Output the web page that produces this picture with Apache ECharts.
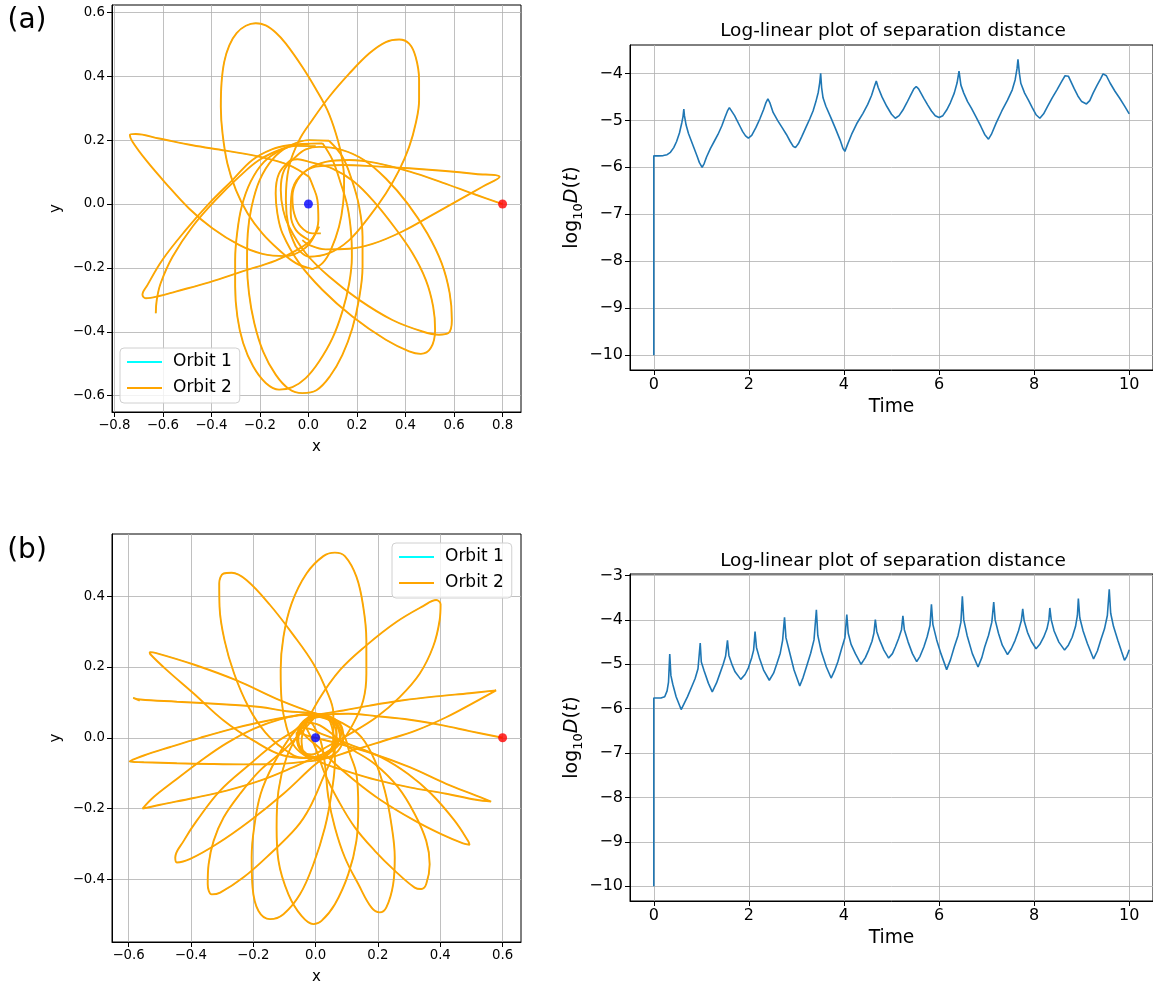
<!DOCTYPE html>
<html>
<head>
<meta charset="utf-8">
<script src="https://cdn.jsdelivr.net/npm/echarts@6/dist/echarts.min.js"></script>
<style>
  html, body { margin: 0; padding: 0; background: #fff; }
  #main { width: 1153px; height: 986px; }
</style>
</head>
<body>
<div id="main"></div>
<script>
//---------------tick labels---------------
const xTicksA = [-0.8, -0.6, -0.4, -0.2, 0, 0.2, 0.4, 0.6, 0.8]
const yTicksA = [-0.6, -0.4, -0.2, 0, 0.2, 0.4, 0.6]
const xTicksB = [-0.6, -0.4, -0.2, 0, 0.2, 0.4, 0.6]
const yTicksB = [-0.4, -0.2, 0, 0.2, 0.4]
const timeTicks = [0, 2, 4, 6, 8, 10]
const logTicksA = [-10, -9, -8, -7, -6, -5, -4]
const logTicksB = [-10, -9, -8, -7, -6, -5, -4, -3]

//---------------separation distance, log10 D(t)---------------
const timeA = [0, 0, 0.1, 0.2, 0.28, 0.35, 0.42, 0.48, 0.54, 0.59, 0.615, 0.632, 0.645, 0.68, 0.73, 0.79, 0.85, 0.91, 0.96, 1.017,
  1.06, 1.11, 1.19, 1.27, 1.35, 1.43, 1.5, 1.55, 1.59, 1.63, 1.7, 1.75, 1.81, 1.87, 1.93, 1.99, 2.06, 2.15, 2.23, 2.31,
  2.36, 2.40, 2.44, 2.51, 2.61, 2.71, 2.79, 2.87, 2.93, 2.98, 3.04, 3.11, 3.2, 3.28, 3.35, 3.41, 3.46, 3.49, 3.51, 3.53,
  3.56, 3.62, 3.72, 3.82, 3.92, 3.98, 4.02, 4.08, 4.16, 4.28, 4.40, 4.50, 4.58, 4.64, 4.68, 4.72, 4.80, 4.90, 5.0, 5.08,
  5.16, 5.24, 5.32, 5.40, 5.47, 5.52, 5.57, 5.68, 5.76, 5.84, 5.92, 6.0, 6.08, 6.16, 6.24, 6.32, 6.38, 6.42, 6.46, 6.52,
  6.60, 6.68, 6.78, 6.88, 6.96, 7.04, 7.1, 7.2, 7.32, 7.44, 7.54, 7.6, 7.64, 7.66, 7.69, 7.72, 7.8, 7.88, 7.96, 8.04,
  8.12, 8.2, 8.28, 8.38, 8.48, 8.58, 8.65, 8.68, 8.72, 8.84, 8.92, 9.0, 9.1, 9.17, 9.24, 9.32, 9.4, 9.45, 9.48, 9.52,
  9.6, 9.7, 9.8, 9.9, 10.0]
const logDA = [-10, -5.755, -5.755, -5.75, -5.73, -5.68, -5.58, -5.45, -5.27, -5.05, -4.92, -4.76, -4.9, -5.1, -5.28, -5.44, -5.6, -5.76, -5.9, -6.0,
  -5.92, -5.78, -5.6, -5.45, -5.3, -5.12, -4.93, -4.8, -4.73, -4.77, -4.9, -5.0, -5.12, -5.24, -5.33, -5.38, -5.32, -5.15, -4.97, -4.77,
  -4.62, -4.54, -4.62, -4.83, -5.01, -5.17, -5.3, -5.45, -5.55, -5.58, -5.5, -5.35, -5.15, -4.97, -4.8, -4.6, -4.4, -4.2, -4.0, -4.3,
  -4.52, -4.7, -4.93, -5.17, -5.42, -5.6, -5.66, -5.5, -5.3, -5.05, -4.85, -4.66, -4.47, -4.28, -4.16, -4.3, -4.5, -4.7, -4.87, -4.955,
  -4.9, -4.78, -4.63, -4.47, -4.33, -4.28, -4.33, -4.53, -4.67, -4.8, -4.9, -4.94, -4.9, -4.78, -4.62, -4.42, -4.2, -3.95, -4.25, -4.42,
  -4.6, -4.74, -4.93, -5.13, -5.3, -5.40, -5.3, -5.06, -4.8, -4.57, -4.35, -4.14, -3.9, -3.70, -4.0, -4.21, -4.42, -4.57, -4.73, -4.88,
  -4.955, -4.86, -4.71, -4.52, -4.35, -4.17, -4.05, -4.01, -4.06, -4.32, -4.48, -4.6, -4.65, -4.58, -4.42, -4.26, -4.11, -4.01, -3.97, -4.05,
  -4.21, -4.38, -4.53, -4.69, -4.86]

const timeB = [0, 0, 0.15, 0.23, 0.28, 0.31, 0.336, 0.36, 0.40, 0.47, 0.576, 0.71, 0.8, 0.87, 0.93, 0.977, 1.0, 1.06, 1.15, 1.23,
  1.32, 1.39, 1.46, 1.51, 1.55, 1.58, 1.65, 1.71, 1.83, 1.92, 1.99, 2.06, 2.10, 2.13, 2.16, 2.22, 2.31, 2.43, 2.52, 2.59,
  2.66, 2.71, 2.75, 2.78, 2.85, 2.95, 3.07, 3.14, 3.21, 3.3, 3.37, 3.42, 3.45, 3.52, 3.63, 3.73, 3.8, 3.87, 3.95, 4.02,
  4.06, 4.09, 4.15, 4.24, 4.36, 4.45, 4.52, 4.59, 4.63, 4.66, 4.69, 4.75, 4.84, 4.94, 5.02, 5.08, 5.15, 5.21, 5.24, 5.27,
  5.35, 5.44, 5.53, 5.6, 5.68, 5.75, 5.81, 5.84, 5.87, 5.95, 6.04, 6.16, 6.24, 6.32, 6.40, 6.46, 6.49, 6.52, 6.59, 6.70,
  6.82, 6.9, 6.96, 7.04, 7.11, 7.15, 7.18, 7.25, 7.33, 7.44, 7.52, 7.6, 7.67, 7.73, 7.76, 7.79, 7.86, 7.94, 8.04, 8.12,
  8.2, 8.27, 8.31, 8.33, 8.36, 8.42, 8.52, 8.64, 8.72, 8.80, 8.87, 8.91, 8.93, 8.96, 9.03, 9.12, 9.25, 9.33, 9.40, 9.48,
  9.54, 9.58, 9.61, 9.67, 9.76, 9.84, 9.90, 9.95, 10.0]
const logDB = [-10, -5.76, -5.76, -5.73, -5.6, -5.4, -4.77, -5.25, -5.45, -5.73, -6.02, -5.73, -5.5, -5.32, -5.1, -4.52, -4.95, -5.15, -5.43, -5.62,
  -5.42, -5.21, -5.0, -4.82, -4.46, -4.8, -5.02, -5.17, -5.34, -5.23, -5.08, -4.85, -4.68, -4.26, -4.62, -4.85, -5.13, -5.36, -5.2, -4.98,
  -4.75, -4.46, -3.94, -4.4, -4.7, -5.13, -5.49, -5.3, -5.06, -4.75, -4.45, -3.77, -4.35, -4.7, -5.06, -5.31, -5.15, -4.95, -4.65, -4.4,
  -3.88, -4.3, -4.55, -4.76, -5.0, -4.85, -4.68, -4.48, -4.3, -3.99, -4.26, -4.45, -4.68, -4.86, -4.76, -4.61, -4.42, -4.22, -3.91, -4.22,
  -4.5, -4.76, -4.94, -4.82, -4.61, -4.38, -4.12, -3.65, -4.1, -4.45, -4.76, -5.12, -4.9, -4.61, -4.35, -4.05, -3.47, -4.0, -4.35, -4.76,
  -5.06, -4.85, -4.61, -4.35, -4.05, -3.60, -4.0, -4.3, -4.57, -4.78, -4.65, -4.46, -4.25, -4.02, -3.75, -4.02, -4.28, -4.48, -4.65, -4.55,
  -4.39, -4.2, -4.0, -3.73, -4.0, -4.25, -4.5, -4.68, -4.57, -4.39, -4.15, -3.9, -3.52, -3.95, -4.25, -4.53, -4.88, -4.7, -4.46, -4.2,
  -3.9, -3.31, -3.85, -4.15, -4.46, -4.72, -4.91, -4.82, -4.67]

//---------------bodies---------------
const centralMass = [[0, 0]]
const startA = [[0.8, 0]]
const startB = [[0.6, 0]]

//---------------orbit (a), one piece per loop---------------
const orbitA_start = [[0.800, 0.000], [0.690, 0.029], [0.552, 0.067], [0.415, 0.102], [0.277, 0.129], [0.168, 0.138], [0.071, 0.132], [0.003, 0.111], [-0.045, 0.075], [-0.066, 0.023], [-0.059, -0.029], [-0.032, -0.071], [0.016, -0.092], [0.051, -0.092]]
const orbitA_corner = [[0.003, -0.113], [-0.052, -0.081], [-0.073, -0.029], [-0.069, 0.033], [-0.038, 0.085], [0.030, 0.117], [0.140, 0.122], [0.277, 0.118], [0.415, 0.112], [0.552, 0.104], [0.690, 0.094], [0.788, 0.085], [0.717, 0.054], [0.621, 0.013], [0.511, -0.034], [0.387, -0.086], [0.264, -0.125], [0.168, -0.140], [0.071, -0.142], [0.003, -0.128], [-0.025, -0.113]]
const orbitA_upRight = [[-0.052, -0.133], [-0.082, -0.071], [-0.093, 0.013], [-0.080, 0.117], [-0.038, 0.200], [0.016, 0.263], [0.085, 0.335], [0.168, 0.408], [0.250, 0.471], [0.319, 0.507], [0.374, 0.515], [0.415, 0.502], [0.442, 0.460], [0.456, 0.388], [0.456, 0.325], [0.442, 0.252], [0.415, 0.179], [0.374, 0.106], [0.319, 0.033], [0.250, -0.040], [0.168, -0.113], [0.085, -0.154], [0.003, -0.165], [-0.052, -0.133]]
const orbitA_upLeft = [[0.017, -0.204], [-0.052, -0.185], [-0.121, -0.144], [-0.190, -0.092], [-0.251, -0.029], [-0.299, 0.044], [-0.334, 0.127], [-0.354, 0.221], [-0.361, 0.304], [-0.358, 0.380], [-0.347, 0.445], [-0.326, 0.497], [-0.296, 0.535], [-0.258, 0.558], [-0.217, 0.566], [-0.176, 0.559], [-0.134, 0.536], [-0.093, 0.502], [-0.025, 0.429], [0.030, 0.361], [0.078, 0.294], [0.113, 0.221], [0.137, 0.148], [0.147, 0.075], [0.143, 0.002], [0.126, -0.071], [0.092, -0.144], [0.058, -0.185], [0.017, -0.204]]
const orbitA_left = [[0.003, 0.085], [-0.080, 0.122], [-0.190, 0.146], [-0.341, 0.167], [-0.478, 0.184], [-0.615, 0.205], [-0.712, 0.219], [-0.736, 0.216], [-0.725, 0.195], [-0.670, 0.138], [-0.588, 0.065], [-0.492, -0.014], [-0.396, -0.076], [-0.286, -0.128], [-0.190, -0.156], [-0.093, -0.163], [-0.025, -0.144], [0.019, -0.107], [0.041, -0.050], [0.037, 0.013], [0.017, 0.059], [0.003, 0.085]]
const orbitA_lowLeft = [[0.044, -0.071], [0.010, -0.113], [-0.052, -0.146], [-0.135, -0.177], [-0.272, -0.211], [-0.409, -0.245], [-0.547, -0.274], [-0.615, -0.288], [-0.670, -0.295], [-0.684, -0.284], [-0.663, -0.253], [-0.602, -0.175], [-0.505, -0.081], [-0.409, 0.002], [-0.313, 0.075], [-0.231, 0.138], [-0.148, 0.172], [-0.080, 0.184], [0.003, 0.188]]
const orbitA_end = [[0.030, 0.181], [-0.052, 0.182], [-0.107, 0.173], [-0.203, 0.138], [-0.286, 0.085], [-0.382, 0.013], [-0.478, -0.071], [-0.560, -0.165], [-0.609, -0.248], [-0.625, -0.300], [-0.629, -0.342]]
const orbitA_bottom1 = [[0.058, 0.190], [-0.025, 0.188], [-0.107, 0.171], [-0.183, 0.132], [-0.238, 0.070], [-0.275, -0.008], [-0.294, -0.092], [-0.302, -0.175], [-0.302, -0.258], [-0.293, -0.352], [-0.269, -0.435], [-0.228, -0.508], [-0.176, -0.560], [-0.121, -0.581], [-0.066, -0.573], [-0.011, -0.545], [0.044, -0.493], [0.099, -0.420], [0.140, -0.336], [0.168, -0.248], [0.179, -0.165], [0.176, -0.092], [0.161, -0.008], [0.133, 0.065], [0.099, 0.138], [0.058, 0.190]]
const orbitA_bottom2 = [[0.085, 0.198], [0.003, 0.200], [-0.080, 0.181], [-0.148, 0.140], [-0.201, 0.075], [-0.234, -0.008], [-0.250, -0.092], [-0.253, -0.185], [-0.245, -0.279], [-0.223, -0.373], [-0.187, -0.461], [-0.135, -0.534], [-0.080, -0.579], [-0.025, -0.592], [0.033, -0.583], [0.088, -0.540], [0.140, -0.472], [0.181, -0.389], [0.209, -0.295], [0.223, -0.196], [0.223, -0.102], [0.209, -0.008], [0.179, 0.075], [0.140, 0.148], [0.085, 0.198]]
const orbitA_lowRight1 = [[-0.052, 0.148], [-0.100, 0.106], [-0.114, 0.044], [-0.104, -0.019], [-0.080, -0.071], [-0.011, -0.154], [0.085, -0.227], [0.209, -0.300], [0.346, -0.363], [0.470, -0.399], [0.538, -0.409], [0.577, -0.404], [0.591, -0.363], [0.582, -0.279], [0.549, -0.185], [0.490, -0.092], [0.408, 0.002], [0.319, 0.080], [0.229, 0.138], [0.140, 0.169], [0.044, 0.179], [-0.011, 0.171], [-0.052, 0.148]]
const orbitA_lowRight2 = [[-0.073, 0.138], [-0.121, 0.096], [-0.135, 0.033], [-0.128, -0.029], [-0.107, -0.092], [-0.038, -0.185], [0.058, -0.269], [0.181, -0.352], [0.319, -0.425], [0.415, -0.461], [0.463, -0.469], [0.504, -0.451], [0.522, -0.394], [0.514, -0.321], [0.484, -0.238], [0.429, -0.154], [0.353, -0.071], [0.271, 0.007], [0.188, 0.070], [0.099, 0.111], [0.003, 0.132], [-0.045, 0.140], [-0.073, 0.138]]

//---------------orbit (b), one piece per loop---------------
const orbitB_start = [[0.600, 0.000], [0.494, 0.019], [0.409, 0.035], [0.302, 0.051], [0.195, 0.061], [0.105, 0.068], [0.035, 0.066], [-0.018, 0.054], [-0.050, 0.025], [-0.055, -0.008], [-0.039, -0.041], [-0.007, -0.057], [0.035, -0.057]]
const orbitB_r = [[-0.029, -0.050], [0.025, -0.057], [0.110, -0.038], [0.217, -0.009], [0.323, 0.021], [0.419, 0.058], [0.505, 0.098], [0.579, 0.134], [0.494, 0.126], [0.387, 0.117], [0.281, 0.106], [0.174, 0.091], [0.089, 0.077], [0.025, 0.068], [-0.023, 0.057], [-0.053, 0.030], [-0.059, -0.008], [-0.048, -0.036], [-0.029, -0.050]]
const orbitB_ur = [[-0.039, -0.045], [-0.045, -0.008], [-0.029, 0.040], [0.009, 0.106], [0.078, 0.191], [0.163, 0.261], [0.259, 0.327], [0.345, 0.372], [0.387, 0.389], [0.401, 0.377], [0.398, 0.332], [0.377, 0.257], [0.334, 0.181], [0.270, 0.115], [0.195, 0.058], [0.110, 0.011], [0.035, -0.026], [-0.013, -0.047], [-0.039, -0.045]]
const orbitB_t = [[-0.018, -0.059], [-0.066, -0.026], [-0.093, 0.030], [-0.109, 0.106], [-0.112, 0.191], [-0.103, 0.285], [-0.077, 0.379], [-0.029, 0.464], [0.025, 0.513], [0.062, 0.523], [0.094, 0.513], [0.131, 0.455], [0.153, 0.370], [0.163, 0.275], [0.163, 0.181], [0.153, 0.106], [0.121, 0.040], [0.078, -0.017], [0.030, -0.050], [-0.018, -0.059]]
const orbitB_ul = [[0.025, -0.055], [-0.039, -0.057], [-0.103, -0.031], [-0.162, 0.016], [-0.215, 0.087], [-0.261, 0.181], [-0.292, 0.275], [-0.308, 0.370], [-0.309, 0.436], [-0.295, 0.464], [-0.269, 0.466], [-0.221, 0.445], [-0.146, 0.375], [-0.071, 0.290], [-0.007, 0.209], [0.035, 0.134], [0.057, 0.068], [0.057, 0.002], [0.046, -0.041], [0.025, -0.055]]
const orbitB_lu = [[0.046, -0.036], [-0.018, -0.057], [-0.103, -0.050], [-0.199, -0.008], [-0.295, 0.049], [-0.391, 0.125], [-0.477, 0.191], [-0.530, 0.236], [-0.532, 0.242], [-0.514, 0.240], [-0.391, 0.207], [-0.253, 0.162], [-0.125, 0.110], [-0.029, 0.077], [0.035, 0.058], [0.073, 0.035], [0.078, 0.002], [0.067, -0.022], [0.046, -0.036]]
const orbitB_end = [[0.078, 0.011], [0.057, 0.049], [0.003, 0.068], [-0.093, 0.075], [-0.178, 0.087], [-0.285, 0.094], [-0.445, 0.102], [-0.562, 0.108], [-0.585, 0.113], [-0.564, 0.105]]
const orbitB_lw = [[0.035, 0.065], [0.078, 0.040], [0.089, 0.002], [0.073, -0.036], [0.035, -0.057], [-0.018, -0.066], [-0.125, -0.074], [-0.231, -0.075], [-0.338, -0.074], [-0.445, -0.072], [-0.551, -0.069], [-0.596, -0.067], [-0.551, -0.050], [-0.466, -0.026], [-0.370, 0.000], [-0.274, 0.024], [-0.178, 0.044], [-0.082, 0.060], [-0.018, 0.068], [0.035, 0.065]]
const orbitB_ld = [[0.025, 0.063], [0.067, 0.049], [0.083, 0.021], [0.073, -0.012], [0.035, -0.041], [-0.007, -0.057], [-0.071, -0.083], [-0.178, -0.121], [-0.285, -0.149], [-0.391, -0.170], [-0.498, -0.189], [-0.555, -0.200], [-0.520, -0.168], [-0.455, -0.123], [-0.370, -0.066], [-0.285, -0.015], [-0.199, 0.025], [-0.114, 0.052], [-0.039, 0.064], [0.025, 0.063]]
const orbitB_s1 = [[-0.018, 0.063], [0.035, 0.058], [0.067, 0.035], [0.067, 0.002], [0.046, -0.036], [0.014, -0.064], [-0.018, -0.088], [-0.103, -0.158], [-0.210, -0.234], [-0.317, -0.300], [-0.402, -0.342], [-0.445, -0.352], [-0.450, -0.338], [-0.423, -0.291], [-0.381, -0.234], [-0.306, -0.149], [-0.210, -0.074], [-0.125, -0.012], [-0.061, 0.025], [-0.018, 0.063]]
const orbitB_s2 = [[0.003, 0.063], [0.046, 0.049], [0.067, 0.011], [0.057, -0.045], [0.025, -0.111], [-0.018, -0.196], [-0.061, -0.253], [-0.146, -0.328], [-0.231, -0.394], [-0.306, -0.437], [-0.333, -0.442], [-0.346, -0.413], [-0.343, -0.357], [-0.327, -0.291], [-0.295, -0.225], [-0.242, -0.158], [-0.178, -0.092], [-0.103, -0.036], [-0.045, 0.016], [0.003, 0.063]]
const orbitB_s3 = [[-0.007, 0.063], [0.035, 0.058], [0.057, 0.011], [0.062, -0.064], [0.051, -0.158], [0.030, -0.253], [-0.007, -0.357], [-0.050, -0.442], [-0.103, -0.498], [-0.146, -0.512], [-0.183, -0.489], [-0.202, -0.423], [-0.205, -0.338], [-0.197, -0.253], [-0.176, -0.158], [-0.135, -0.074], [-0.082, 0.002], [-0.039, 0.044], [-0.007, 0.063]]
const orbitB_s4 = [[0.000, 0.060], [0.046, 0.049], [0.089, 0.011], [0.110, -0.045], [0.131, -0.102], [0.137, -0.196], [0.131, -0.291], [0.105, -0.385], [0.062, -0.470], [0.019, -0.517], [-0.007, -0.526], [-0.045, -0.503], [-0.087, -0.442], [-0.119, -0.347], [-0.125, -0.253], [-0.119, -0.149], [-0.093, -0.055], [-0.055, 0.011], [-0.023, 0.049], [0.000, 0.060]]
const orbitB_s5 = [[-0.021, 0.051], [0.025, 0.060], [0.089, 0.040], [0.147, 0.002], [0.190, -0.064], [0.222, -0.149], [0.243, -0.243], [0.254, -0.338], [0.249, -0.413], [0.227, -0.479], [0.206, -0.493], [0.179, -0.479], [0.137, -0.413], [0.094, -0.338], [0.062, -0.253], [0.041, -0.168], [0.030, -0.074], [0.016, -0.008], [-0.007, 0.035], [-0.021, 0.051]]
const orbitB_s6 = [[-0.039, 0.044], [0.014, 0.035], [0.105, -0.026], [0.190, -0.074], [0.265, -0.140], [0.318, -0.215], [0.355, -0.291], [0.366, -0.357], [0.355, -0.413], [0.339, -0.427], [0.318, -0.423], [0.254, -0.375], [0.190, -0.319], [0.126, -0.253], [0.073, -0.177], [0.030, -0.102], [0.003, -0.036], [-0.020, 0.011], [-0.039, 0.044]]
const orbitB_s7 = [[-0.055, 0.030], [-0.018, 0.025], [0.019, 0.011], [0.105, -0.017], [0.211, -0.055], [0.297, -0.102], [0.371, -0.158], [0.446, -0.234], [0.489, -0.291], [0.494, -0.302], [0.473, -0.298], [0.403, -0.272], [0.318, -0.234], [0.211, -0.177], [0.126, -0.121], [0.051, -0.064], [0.009, -0.026], [-0.029, 0.002], [-0.055, 0.030]]
const orbitB_s8 = [[-0.061, 0.016], [-0.018, 0.004], [0.067, -0.015], [0.184, -0.045], [0.302, -0.083], [0.419, -0.130], [0.515, -0.163], [0.563, -0.180], [0.515, -0.175], [0.419, -0.158], [0.302, -0.140], [0.195, -0.119], [0.099, -0.094], [0.025, -0.072], [-0.029, -0.045], [-0.055, -0.017], [-0.061, 0.016]]

const lobesA = [orbitA_start, orbitA_corner, orbitA_upRight, orbitA_upLeft, orbitA_left, orbitA_lowLeft,
  orbitA_bottom1, orbitA_bottom2, orbitA_lowRight1, orbitA_lowRight2, orbitA_end]
const lobesB = [orbitB_start, orbitB_r, orbitB_ur, orbitB_t, orbitB_ul, orbitB_lu, orbitB_lw, orbitB_ld,
  orbitB_s1, orbitB_s2, orbitB_s3, orbitB_s4, orbitB_s5, orbitB_s6, orbitB_s7, orbitB_s8, orbitB_end]

//================================================================
const FONT = 'DejaVu Sans'
const MINUS = '\u2212'
function fmt(v, d) {
  return (v < 0 ? MINUS : '') + Math.abs(v).toFixed(d)
}

function axis(gridIndex, min, max, ticks, fontSize, digits, extra) {
  return Object.assign({
    type: 'value',
    gridIndex: gridIndex,
    min: min,
    max: max,
    axisLine: { show: true, onZero: false, lineStyle: { color: '#000', width: 1 } },
    axisTick: { show: true, length: 5, customValues: ticks, lineStyle: { color: '#000', width: 1 } },
    axisLabel: {
      customValues: ticks, color: '#000', fontFamily: FONT, fontSize: fontSize, margin: 7,
      formatter: v => fmt(v, digits)
    },
    splitLine: { show: true, lineStyle: { color: '#b0b0b0', width: 0.8 } },
    nameTextStyle: { color: '#000', fontFamily: FONT }
  }, extra)
}

function logName(gap) {
  return {
    name: '{a|log}{s|10}{i|D}{a|(}{i|t}{a|)}',
    nameLocation: 'middle',
    nameRotate: 90,
    nameGap: gap,
    nameTextStyle: {
      color: '#000',
      rich: {
        a: { fontFamily: FONT, fontSize: 19, lineHeight: 26, color: '#000' },
        s: { fontFamily: FONT, fontSize: 13, lineHeight: 13, verticalAlign: 'bottom', color: '#000' },
        i: { fontFamily: FONT, fontStyle: 'italic', fontSize: 19, lineHeight: 26, color: '#000' }
      }
    }
  }
}

//轨道：每一段画两次，青色细线在下，橙色在上（两条轨道几乎重合）
function orbitSeries(lobes, idx) {
  let list = []
  lobes.forEach(lobe => {
    list.push({
      name: 'Orbit 1', type: 'line', xAxisIndex: idx, yAxisIndex: idx, data: lobe,
      symbol: 'none', smooth: 0.38, lineStyle: { color: '#00ffff', width: 0.8 }, itemStyle: { color: '#00ffff' }, z: 2
    })
    list.push({
      name: 'Orbit 2', type: 'line', xAxisIndex: idx, yAxisIndex: idx, data: lobe,
      symbol: 'none', smooth: 0.38, lineStyle: { color: '#ffa500', width: 1.9 }, itemStyle: { color: '#ffa500' }, z: 3
    })
  })
  return list
}

function dots(idx, start) {
  return [
    { type: 'scatter', xAxisIndex: idx, yAxisIndex: idx, data: centralMass, symbolSize: 9, itemStyle: { color: '#0000ff' }, z: 5 },
    { type: 'scatter', xAxisIndex: idx, yAxisIndex: idx, data: start, symbolSize: 9, itemStyle: { color: '#ff0000' }, z: 5 }
  ]
}

function sepSeries(times, values, idx) {
  return {
    type: 'line', xAxisIndex: idx, yAxisIndex: idx,
    data: times.map((t, i) => [t, values[i]]),
    symbol: 'none', lineStyle: { color: '#1f77b4', width: 1.6 }, z: 3
  }
}

function legend(left, top) {
  return {
    data: ['Orbit 1', 'Orbit 2'],
    orient: 'vertical',
    left: left,
    top: top,
    icon: 'rect',
    itemWidth: 35,
    itemHeight: 2,
    itemGap: 8,
    padding: [5, 8, 6, 7],
    backgroundColor: 'rgba(255,255,255,0.8)',
    borderColor: '#d0d0d0',
    borderWidth: 1,
    borderRadius: 4,
    textStyle: { fontFamily: FONT, fontSize: 17, lineHeight: 18, color: '#000', padding: [0, 0, 0, 6] }
  }
}

function label(text, x, y, size) {
  return {
    type: 'text', x: x, y: y,
    style: { text: text, font: size + 'px "DejaVu Sans"', fill: '#000', textAlign: 'center', textVerticalAlign: 'middle' }
  }
}

let myChart = echarts.init(document.querySelector('#main'), null, { renderer: 'canvas' })
let option = {
  animation: false,
  backgroundColor: '#fff',
  textStyle: { fontFamily: FONT },
  grid: [
    { left: 112, top: 5, width: 409, height: 407, show: true, borderColor: '#000', borderWidth: 1 },
    { left: 630, top: 45, width: 527, height: 325, show: true, borderColor: '#000', borderWidth: 1 },
    { left: 112, top: 534, width: 409, height: 408, show: true, borderColor: '#000', borderWidth: 1 },
    { left: 630, top: 574, width: 527, height: 327, show: true, borderColor: '#000', borderWidth: 1 }
  ],
  xAxis: [
    axis(0, -0.8095, 0.876, xTicksA, 13.3, 1, { name: 'x', nameLocation: 'middle', nameGap: 28, nameTextStyle: { color: '#000', fontFamily: FONT, fontSize: 15 } }),
    axis(1, -0.5, 10.5, timeTicks, 16, 0, { name: 'Time', nameLocation: 'middle', nameGap: 28, nameTextStyle: { color: '#000', fontFamily: FONT, fontSize: 18.7 } }),
    axis(2, -0.653, 0.659, xTicksB, 13.3, 1, { name: 'x', nameLocation: 'middle', nameGap: 28, nameTextStyle: { color: '#000', fontFamily: FONT, fontSize: 15 } }),
    axis(3, -0.5, 10.5, timeTicks, 16, 0, { name: 'Time', nameLocation: 'middle', nameGap: 28, nameTextStyle: { color: '#000', fontFamily: FONT, fontSize: 18.7 } })
  ],
  yAxis: [
    axis(0, -0.651, 0.623, yTicksA, 13.3, 1, { name: 'y', nameLocation: 'middle', nameRotate: 90, nameGap: 48, nameTextStyle: { color: '#000', fontFamily: FONT, fontSize: 15 } }),
    axis(1, -10.3145, -3.3955, logTicksA, 16, 0, logName(44)),
    axis(2, -0.5766, 0.5755, yTicksB, 13.3, 1, { name: 'y', nameLocation: 'middle', nameRotate: 90, nameGap: 48, nameTextStyle: { color: '#000', fontFamily: FONT, fontSize: 15 } }),
    axis(3, -10.335, -2.965, logTicksB, 16, 0, logName(44))
  ],
  legend: [legend(120, 348), legend(392, 543)],
  graphic: [
    label('(a)', 27, 21, 28),
    label('(b)', 27, 551, 28),
    label('Log-linear plot of separation distance', 893, 31, 18.5),
    label('Log-linear plot of separation distance', 893, 561, 18.5)
  ],
  series: [].concat(
    orbitSeries(lobesA, 0),
    dots(0, startA),
    [sepSeries(timeA, logDA, 1)],
    orbitSeries(lobesB, 2),
    dots(2, startB),
    [sepSeries(timeB, logDB, 3)]
  )
}
myChart.setOption(option)
</script>
</body>
</html>
